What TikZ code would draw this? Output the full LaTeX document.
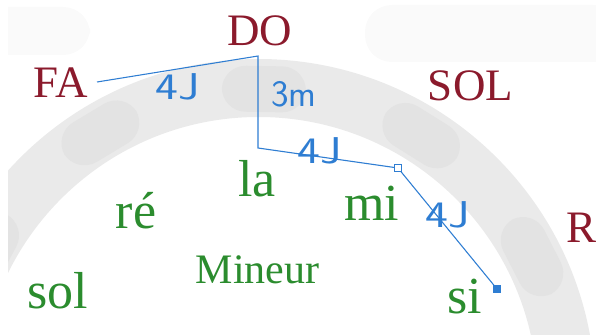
\documentclass[tikz,border=0pt]{standalone}
\usepackage{fontspec}
\setmainfont{Liberation Serif}
\usepackage{xcolor}
\usepackage{tikz}

\definecolor{noteRed}{HTML}{8B1A2C}
\definecolor{noteGreen}{HTML}{2B8C2E}
\definecolor{penBlue}{HTML}{2E7DD2}
\definecolor{ringGray}{HTML}{EAEAEA}
\definecolor{slotGray}{HTML}{E3E3E3}
\definecolor{fadeGray}{HTML}{FAFAFA}

\tikzset{
  major/.style={text=noteRed, font=\fontsize{33.75}{40}\selectfont, inner sep=0pt, anchor=base},
  minor/.style={text=noteGreen, font=\fontsize{39}{46}\selectfont, inner sep=0pt, anchor=base},
  interval/.style={text=penBlue, font=\sffamily\fontsize{28}{32}\selectfont, inner sep=0.75pt},
  pen/.style={draw=penBlue, line width=0.8pt},
}

\begin{document}
\begin{tikzpicture}[x=0.75pt,y=0.75pt,yscale=-1,xscale=1]
\useasboundingbox (0,0) rectangle (596,335);

%Shape: wheel in the background
\begin{scope}
\clip (8,0) rectangle (596,335);
\fill [fadeGray, rounded corners=20pt] (-20,7) rectangle (90,55);
\fill [fadeGray, rounded corners=20pt] (365,5) rectangle (620,62);
\fill [ringGray, even odd rule] (258.5,396) circle (337) (258.5,396) circle (279);
\begin{scope}[shift={(258.5,396)}, yscale=-1]
\foreach \a in {27,58,89,121,152}
  \fill [slotGray, rotate=\a, rounded corners=18pt] (284,-42) rectangle (330,42);
\end{scope}
\end{scope}

% Text Node
\node [major] (DO) at (260,46) {DO};
% Text Node
\node [major] (FA) at (61,98) {FA};
% Text Node
\node [major] (SOL) at (470.5,100) {SOL};
% Text Node
\node [major, anchor=base west] (RE) at (566,242) {R};

% Text Node
\node [minor] (la) at (257,196) {la};
% Text Node
\node [minor] (re) at (136,228) {ré};
% Text Node
\node [minor] (mi) at (371.5,220) {mi};
% Text Node
\node [minor] (sol) at (57.5,308) {sol};
% Text Node
\node [minor] (si) at (465,313) {si};
% Text Node
\node [minor, font=\fontsize{31.5}{38}\selectfont] (mineur) at (257.5,283) {Mineur};

%Straight Lines: path of the fifths
\coordinate (start) at (97,82);
\coordinate (bend1) at (258,56);
\coordinate (bend2) at (258,148);
\coordinate (bend3) at (398,168);
\coordinate (stop) at (497,289);
\draw [pen] (start) -- (bend1) -- (bend2) -- (bend3) -- (stop);
\node [draw=penBlue, fill=white, line width=0.6pt, minimum size=5.5pt, inner sep=0pt] (open) at (bend3) {};
\node [fill=penBlue, minimum size=6.5pt, inner sep=0pt] (shut) at (stop) {};

% Text Node
\node [interval] (q1) at (178,87) {\scalebox{1.3}[1]{4J}};
% Text Node
\node [interval] (t1) at (294,94) {3m};
% Text Node
\node [interval] (q2) at (320,151) {\scalebox{1.3}[1]{4J}};
% Text Node
\node [interval] (q3) at (448,215) {\scalebox{1.3}[1]{4J}};

\end{tikzpicture}
\end{document}
